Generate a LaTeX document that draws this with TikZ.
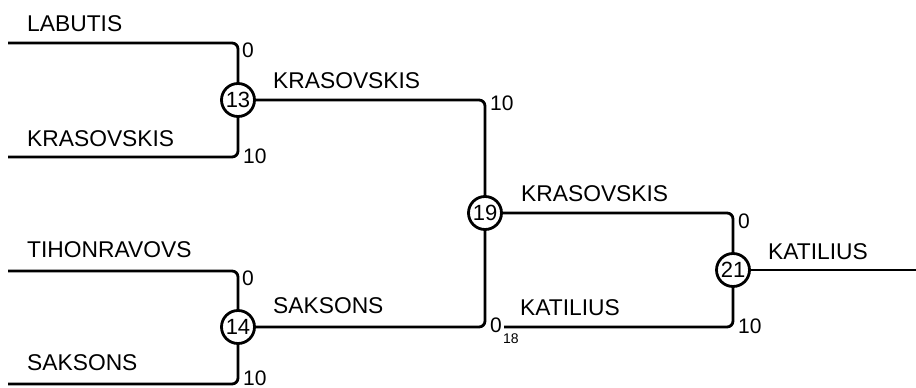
\documentclass[tikz,border=0pt]{standalone}
\usepackage{fontspec}
\setmainfont{Liberation Sans}
\begin{document}
\begin{tikzpicture}[x=1pt,y=-1pt,
  wire/.style={line width=2.8pt, rounded corners=6pt},
  match/.style={circle, draw, line width=2.8pt, minimum size=33pt, inner sep=0pt, font=\fontsize{22}{24}\selectfont},
  player/.style={anchor=base west, inner sep=0pt, font=\fontsize{22.8}{24}\selectfont},
  score/.style={anchor=base west, inner sep=0pt, font=\fontsize{21}{24}\selectfont},
  subscore/.style={anchor=base west, inner sep=0pt, font=\fontsize{14}{16}\selectfont}]
\useasboundingbox (0,0) rectangle (916,388);
% match circles
\node[match] (m13) at (238,100) {13};
\node[match] (m14) at (238,327) {14};
\node[match] (m19) at (485,213) {19};
\node[match] (m21) at (733,270) {21};
% free ends
\coordinate (l1) at (8,43);
\coordinate (l2) at (8,157);
\coordinate (l3) at (8,271);
\coordinate (l4) at (8,384);
\coordinate (k) at (504,327);
\coordinate (fin) at (916,270);
% connectors
\draw[wire] (l1) -| (m13);
\draw[wire] (l2) -| (m13);
\draw[wire] (l3) -| (m14);
\draw[wire] (l4) -| (m14);
\draw[wire] (m13) -| (m19);
\draw[wire] (m19) |- (m14);
\draw[wire] (m19) -| (m21);
\draw[wire] (k) -| (m21);
\draw[wire] (m21) -- (fin);
% player names
\node[player] (t1) at (27,31) {LABUTIS};
\node[player] (t2) at (27,146) {KRASOVSKIS};
\node[player] (t3) at (27,257) {TIHONRAVOVS};
\node[player] (t4) at (27,370) {SAKSONS};
\node[player] (t5) at (273,88) {KRASOVSKIS};
\node[player] (t6) at (273,313) {SAKSONS};
\node[player] (t7) at (521,201) {KRASOVSKIS};
\node[player] (t8) at (520,315) {KATILIUS};
\node[player] (t9) at (768,259) {KATILIUS};
% scores
\node[score] (s1) at (242,57) {0};
\node[score] (s2) at (243,163) {10};
\node[score] (s3) at (242,285) {0};
\node[score] (s4) at (243,385) {10};
\node[score] (s5) at (490,110) {10};
\node[score] (s6) at (490,332) {0};
\node[subscore] (s6b) at (503,343) {18};
\node[score] (s7) at (738,228) {0};
\node[score] (s8) at (738,333) {10};
\end{tikzpicture}
\end{document}
